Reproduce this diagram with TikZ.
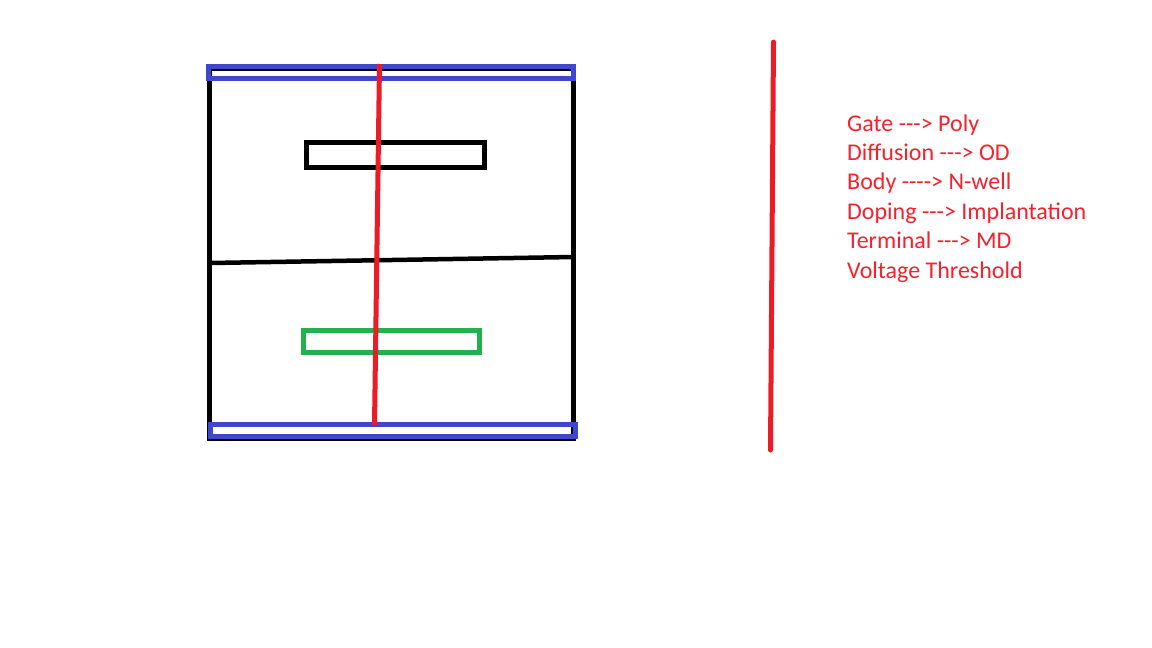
\documentclass[tikz,border=0pt]{standalone}
\usepackage{xcolor}
\usepackage{fontspec}
\newfontfamily\labelfont{Carlito}
\definecolor{railblue}{HTML}{3F48CC}
\definecolor{polyred}{HTML}{ED1C24}
\definecolor{labelred}{HTML}{F5222D}
\definecolor{diffgreen}{HTML}{22B14C}
\tikzset{
    box/.style={shape=rectangle,draw=black,line width=5pt,inner sep=0pt},
    poly/.style={draw=polyred,line width=5pt},
    legend/.style={anchor=base west,inner sep=0pt,text=labelred,font=\labelfont\fontsize{24}{28}\selectfont}
}

\begin{document}
\begin{tikzpicture}[x=1pt,y=-1pt]
    \useasboundingbox (0,0) rectangle (1152,648);

    \node[box,minimum width=364pt,minimum height=370pt] (cell) at (391.5,253.5) {};
    \coordinate (splitL) at (210,263);
    \coordinate (splitR) at (574,257);
    \draw[line width=4.5pt] (splitL) -- (splitR);

    \node[box,minimum width=178pt,minimum height=25pt] (gate) at (395.5,155) {};
    \node[box,draw=diffgreen,minimum width=176pt,minimum height=22pt] (diff) at (391.5,341.5) {};
    \node[box,draw=railblue,minimum width=365pt,minimum height=12pt] (railT) at (391,72.5) {};
    \node[box,draw=railblue,minimum width=365pt,minimum height=12pt] (railB) at (393,430.5) {};

    \coordinate (polyT) at (379.5,64);
    \coordinate (polyB) at (374.5,425);
    \coordinate (wireT) at (773.5,42);
    \coordinate (wireB) at (770.5,450);
    \draw[poly] (polyT) -- (polyB);
    \draw[poly,line cap=round] (wireT) -- (wireB);

    \node[legend] (l1) at (847,131) {Gate ---> Poly};
    \node[legend] (l2) at (847,160.4) {Diffusion ---> OD};
    \node[legend] (l3) at (847,189.8) {Body ----> N-well};
    \node[legend] (l4) at (847,219.2) {Doping ---> Implantation};
    \node[legend] (l5) at (847,248.6) {Terminal ---> MD};
    \node[legend] (l6) at (847,278) {Voltage Threshold};
\end{tikzpicture}
\end{document}
